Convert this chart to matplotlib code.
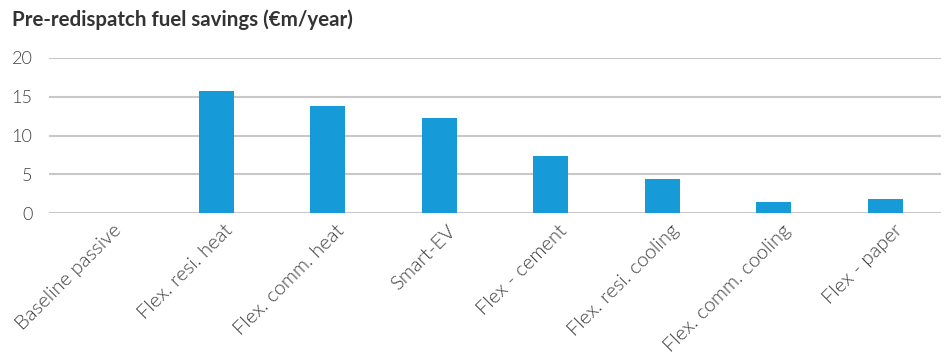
import matplotlib.pyplot as plt
from matplotlib.transforms import ScaledTranslation

# datos
categorias = ["Baseline passive", "Flex. resi. heat", "Flex. comm. heat", "Smart-EV",
              "Flex - cement", "Flex. resi. cooling", "Flex. comm. cooling", "Flex - paper"]
ahorros = [0, 15.8, 13.8, 12.3, 7.4, 4.4, 1.45, 1.8]
yticks = [0, 5, 10, 15, 20]

plt.rcParams['font.family'] = ['Lato', 'DejaVu Sans']

fig = plt.figure(figsize=(9.46, 3.56), dpi=100)
ax = fig.add_axes([49 / 946, 143 / 356, 892 / 946, 155 / 356])

x = range(len(categorias))
ax.bar(x, ahorros, width=0.31, color='#169bd8', zorder=3)

ax.set_ylim(0, 20)
ax.set_xlim(-0.5, len(categorias) - 0.5)
ax.set_yticks(yticks)
ax.yaxis.grid(True, color='#c8c8c8', linewidth=1.5, zorder=0)
for s in ax.spines.values():
    s.set_visible(False)
ax.tick_params(length=0)
ax.set_yticklabels([str(v) for v in yticks], fontsize=13, color='#404040', fontweight=300)
ax.tick_params(axis='y', pad=12)

ax.set_xticks(list(x))
ax.set_xticklabels(categorias, rotation=45, ha='right', va='center',
                   rotation_mode='anchor', fontsize=14.5, color='#404040', fontweight=300)
offset = ScaledTranslation(14 / 100, -10 / 100, fig.dpi_scale_trans)
for lab in ax.get_xticklabels():
    lab.set_transform(lab.get_transform() + offset)

fig.text(12 / 946, 1 - 20 / 356, "Pre-redispatch fuel savings (€m/year)", fontsize=14.8,
         fontweight='bold', color='#333333', va='center', ha='left')

fig.savefig('out.png', dpi=100)
